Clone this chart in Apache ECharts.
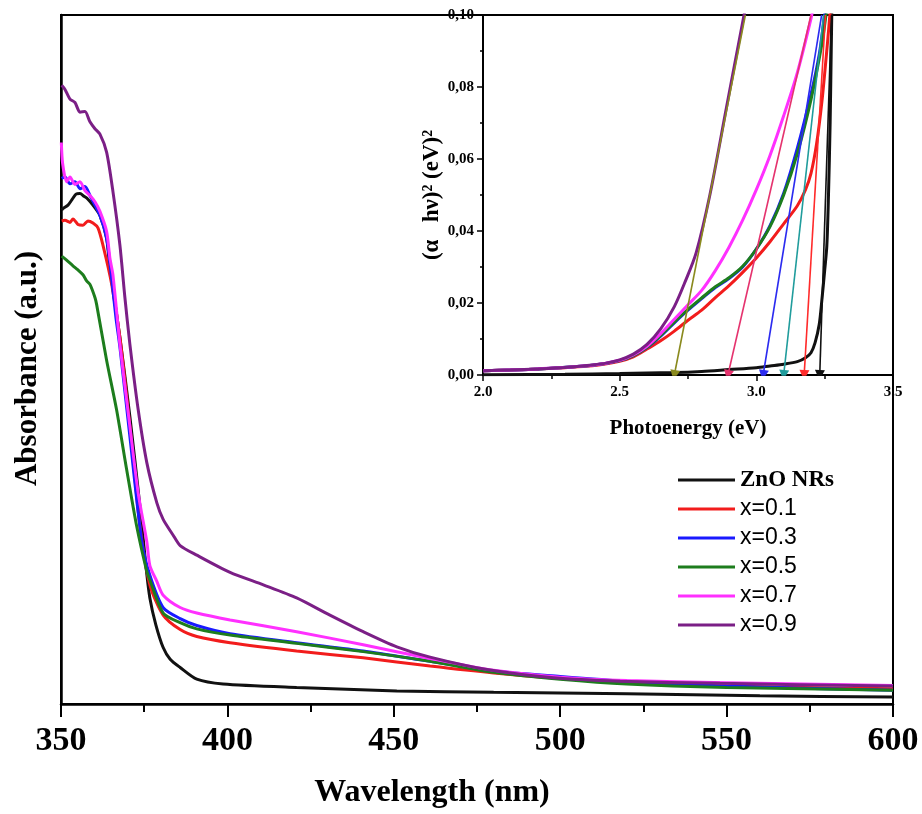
<!DOCTYPE html>
<html>
<head>
<meta charset="utf-8">
<script src="https://cdn.jsdelivr.net/npm/echarts@6/dist/echarts.min.js"></script>
<style>
  html, body { margin: 0; padding: 0; background: #fff; }
  #chart { width: 922px; height: 814px; }
</style>
</head>
<body>
<div id="chart"></div>
<script>
// Sample names and colours (shared by the absorbance spectra and the Tauc plots)
const sampleNames = ['ZnO NRs', 'x=0.1', 'x=0.3', 'x=0.5', 'x=0.7', 'x=0.9'];
const sampleColors = ['#111111', '#f21c1c', '#1a1aff', '#1d7d1d', '#ff30ff', '#7b1f86'];

// UV-vis absorbance spectra: [wavelength (nm), absorbance (a.u.)]
const absZnO = [[350.2,71.7],[350.6,71.9],[352.1,72.4],[353.3,73.2],[354.5,74.0],[355.7,74.1],[356.9,73.7],[357.8,73.4],[359.6,72.4],[361.7,70.9],[363.7,67.6],[364.7,63.3],[367.7,53.2],[370.7,41.7],[373.7,28.8],[375.5,20.1],[376.7,15.4],[378.5,11.5],[380.7,8.2],[382.8,6.5],[385.8,5.3],[390.8,3.6],[398.7,2.9],[420.8,2.4],[450.9,1.9],[480,1.7],[520,1.5],[560,1.2],[600,1.0]];
const absX01 = [[350.2,70.1],[351.2,70.2],[352.7,69.9],[353.6,70.4],[355.1,69.6],[356.6,69.5],[358.1,70.1],[359.6,69.8],[361.1,69.1],[362.6,66.6],[365.2,61.0],[367.7,53.2],[370.7,40.3],[373.7,25.9],[376.7,17.3],[380.7,12.9],[385.8,10.8],[390.8,9.8],[400.8,8.9],[420.8,7.7],[440.8,6.7],[460.9,5.5],[480,4.5],[500,3.7],[520,3.1],[550,2.6],[600,2.2]];
const absX03 = [[350.2,76.3],[351.2,76.5],[352.7,75.5],[354.2,75.8],[355.7,74.8],[357.2,75.1],[358.7,73.8],[361.7,70.9],[363.7,67.6],[364.7,64.0],[366.5,56.1],[367.7,51.8],[370.7,38.8],[374.3,23.5],[376.7,18.7],[380.7,14.0],[385.8,12.4],[390.8,11.4],[400.8,10.2],[420.8,8.9],[440.8,7.7],[460.9,6.2],[480,4.8],[500,4.0],[520,3.3],[550,2.6],[600,2.0]];
const absX05 = [[350.2,65.0],[351.5,64.5],[353.6,63.6],[355.1,63.0],[356.6,62.3],[357.7,61.4],[358.7,60.9],[360.2,59.0],[360.7,58.0],[363.7,49.9],[366.7,42.7],[369.7,34.1],[372.7,25.9],[375.8,19.2],[376.7,18.0],[380.7,13.2],[385.8,11.8],[390.8,10.9],[400.8,10.0],[420.8,8.8],[440.8,7.6],[460.9,6.2],[480,4.6],[500,3.6],[520,2.9],[550,2.4],[600,2.0]];
const absX07 = [[350.1,81.5],[350.5,78.4],[351.7,75.8],[352.7,76.5],[354.2,75.4],[355.7,75.8],[357.2,74.5],[358.7,73.8],[360.2,72.9],[361.7,71.5],[363.7,68.6],[364.7,64.7],[365.6,62.3],[367.7,52.2],[370.7,40.3],[373.2,30.6],[375.8,23.5],[376.7,20.1],[378.8,17.8],[380.7,15.8],[385.8,14.0],[390.8,13.2],[400.8,12.2],[420.8,10.5],[440.8,8.6],[460.9,6.6],[480,4.9],[500,3.9],[520,3.4],[550,3.1],[600,2.7]];
const absX09 = [[350.2,89.8],[351.2,89.2],[352.7,87.8],[354.2,87.3],[355.7,85.9],[357.2,86.0],[358.7,84.5],[360.2,83.5],[361.7,82.7],[363.7,80.1],[365.6,74.4],[367.7,66.6],[369.2,59.0],[370.7,52.2],[373.2,42.7],[375.8,35.0],[378.8,29.2],[380.7,26.8],[383.7,24.5],[385.8,23.0],[390.8,21.6],[400.8,19.1],[410.8,17.3],[420.8,15.4],[430.8,12.9],[440.8,10.5],[450.9,8.3],[460.9,6.8],[478,5.0],[498,3.8],[518,3.3],[548,3.0],[600,2.6]];
const absorbance = [absZnO, absX01, absX03, absX05, absX07, absX09];

// Tauc plots: [photon energy (eV), (alpha h nu)^2]
const taucZnO = [[2.0,0.0001],[2.3,0.0002],[2.5,0.0004],[2.7,0.0007],[2.8,0.0010],[2.9,0.0015],[3.0,0.0020],[3.05,0.0025],[3.1,0.0030],[3.15,0.0037],[3.18,0.0048],[3.2,0.0062],[3.215,0.0090],[3.23,0.0140],[3.24,0.0210],[3.25,0.0290],[3.258,0.0360],[3.264,0.0500],[3.27,0.0700],[3.274,0.0900],[3.277,0.1050]];
const taucX01 = [[2.0,0.0012],[2.2,0.0017],[2.4,0.0026],[2.5,0.0038],[2.55,0.0050],[2.6,0.0072],[2.65,0.0095],[2.7,0.0122],[2.75,0.0152],[2.8,0.0180],[2.85,0.0215],[2.9,0.0248],[2.95,0.0285],[3.0,0.0325],[3.05,0.0370],[3.1,0.0420],[3.15,0.0470],[3.18,0.0515],[3.2,0.0560],[3.22,0.0640],[3.24,0.0760],[3.26,0.0920],[3.27,0.1010]];
const taucX03 = [[2.0,0.0012],[2.2,0.0017],[2.4,0.0027],[2.5,0.0040],[2.55,0.0054],[2.6,0.0076],[2.65,0.0108],[2.7,0.0145],[2.75,0.0180],[2.8,0.0212],[2.85,0.0243],[2.9,0.0268],[2.95,0.0300],[3.0,0.0350],[3.05,0.0415],[3.1,0.0505],[3.15,0.0630],[3.2,0.0780],[3.23,0.0890],[3.25,0.1000],[3.26,0.1050]];
const taucX05 = [[2.0,0.0012],[2.2,0.0017],[2.4,0.0027],[2.5,0.0040],[2.55,0.0054],[2.6,0.0077],[2.65,0.0110],[2.7,0.0147],[2.75,0.0182],[2.8,0.0214],[2.85,0.0245],[2.9,0.0270],[2.95,0.0302],[3.0,0.0350],[3.05,0.0412],[3.1,0.0500],[3.15,0.0615],[3.2,0.0765],[3.24,0.0920],[3.255,0.1000],[3.265,0.1050]];
const taucX07 = [[2.0,0.0012],[2.2,0.0017],[2.4,0.0027],[2.5,0.0041],[2.55,0.0056],[2.6,0.0080],[2.65,0.0115],[2.7,0.0155],[2.75,0.0195],[2.8,0.0235],[2.85,0.0290],[2.9,0.0355],[2.95,0.0430],[3.0,0.0515],[3.05,0.0610],[3.1,0.0720],[3.15,0.0840],[3.2,0.0990],[3.21,0.1030]];
const taucX09 = [[2.0,0.0012],[2.1,0.0014],[2.2,0.0017],[2.3,0.0021],[2.4,0.0028],[2.45,0.0033],[2.5,0.0042],[2.55,0.0058],[2.6,0.0085],[2.65,0.0128],[2.7,0.0190],[2.74,0.0260],[2.78,0.0340],[2.83,0.0500],[2.89,0.0740],[2.95,0.0980],[2.97,0.1060]];
const tauc = [taucZnO, taucX01, taucX03, taucX05, taucX07, taucX09];

// Linear extrapolations of the absorption edges (band-gap estimates)
const fitIntercepts = [2.70, 2.896, 3.025, 3.10, 3.175, 3.232];
const fitTopEnergies = [2.96, 3.20, 3.239, 3.246, 3.253, 3.275];
const fitTopValue = 0.10;
const fitColors = ['#8a8a1e', '#e5336e', '#2b2bf0', '#1f9c9c', '#ff2b2b', '#111111'];

const serif = 'Liberation Serif, Times New Roman, serif';
const sans = 'Liberation Sans, Arial, sans-serif';

const chart = echarts.init(document.getElementById('chart'), null, { renderer: 'canvas' });

const mainSeries = sampleNames.map((name, i) => ({
  name: name,
  type: 'line',
  xAxisIndex: 0,
  yAxisIndex: 0,
  data: absorbance[i],
  showSymbol: false,
  smooth: 0.25,
  lineStyle: { width: 3, color: sampleColors[i] },
  itemStyle: { color: sampleColors[i] },
  z: 2 + i
}));

const insetSeries = sampleNames.map((name, i) => ({
  name: 'Tauc ' + name,
  type: 'line',
  xAxisIndex: 1,
  yAxisIndex: 1,
  data: tauc[i],
  showSymbol: false,
  smooth: 0.3,
  lineStyle: { width: 3, color: sampleColors[i] },
  itemStyle: { color: sampleColors[i] },
  z: 10 + i
}));

const fitSeries = {
  name: 'band-gap fits',
  type: 'lines',
  coordinateSystem: 'cartesian2d',
  xAxisIndex: 1,
  yAxisIndex: 1,
  polyline: false,
  silent: true,
  symbol: ['none', 'triangle'],
  symbolSize: 10,
  lineStyle: { width: 1.6, opacity: 1, curveness: 0 },
  data: fitIntercepts.map((e0, i) => ({
    coords: [[fitTopEnergies[i], fitTopValue], [e0, 0]],
    lineStyle: { color: fitColors[i] }
  })),
  z: 20
};

const option = {
  backgroundColor: '#ffffff',
  animation: false,
  color: sampleColors,
  grid: [
    { left: 61, right: 29, top: 15, bottom: 105, show: true, borderColor: '#000', borderWidth: 2, backgroundColor: 'transparent' },
    { left: 483, right: 29, top: 15, bottom: 439, show: true, borderColor: '#000', borderWidth: 2, backgroundColor: '#fff', z: 5 }
  ],
  legend: {
    orient: 'vertical',
    left: 673,
    top: 463,
    itemWidth: 57,
    itemHeight: 3,
    itemGap: 5,
    icon: 'rect',
    selectedMode: false,
    textStyle: { color: '#000', lineHeight: 24 },
    data: sampleNames.map((n, i) => ({
      name: n,
      textStyle: i === 0
        ? { fontFamily: serif, fontWeight: 'bold', fontSize: 23, color: '#000', lineHeight: 24 }
        : { fontFamily: sans, fontSize: 23, color: '#000', lineHeight: 24 }
    }))
  },
  xAxis: [
    {
      gridIndex: 0,
      type: 'value',
      min: 350,
      max: 600,
      interval: 50,
      name: 'Wavelength (nm)',
      nameLocation: 'middle',
      nameGap: 73,
      nameTextStyle: { fontFamily: serif, fontWeight: 'bold', fontSize: 32, color: '#000', padding: [0, 90, 0, 0] },
      axisLine: { lineStyle: { color: '#000', width: 2.5 } },
      axisTick: { inside: false, length: 13, lineStyle: { color: '#000', width: 2 } },
      minorTick: { show: true, splitNumber: 2, length: 8, lineStyle: { color: '#000', width: 2 } },
      axisLabel: { fontFamily: serif, fontWeight: 'bold', fontSize: 34, color: '#000', margin: 20 },
      splitLine: { show: false },
      minorSplitLine: { show: false }
    },
    {
      gridIndex: 1,
      type: 'value',
      min: 2.0,
      max: 3.5,
      interval: 0.5,
      name: 'Photoenergy (eV)',
      nameLocation: 'middle',
      nameGap: 43,
      nameTextStyle: { fontFamily: serif, fontWeight: 'bold', fontSize: 21, color: '#000' },
      axisLine: { lineStyle: { color: '#000', width: 2 } },
      axisTick: { inside: false, length: 6, lineStyle: { color: '#000', width: 1.5 } },
      minorTick: { show: true, splitNumber: 2, length: 4, lineStyle: { color: '#000', width: 1.5 } },
      axisLabel: { fontFamily: serif, fontWeight: 'bold', fontSize: 15, color: '#000', margin: 10, formatter: v => v.toFixed(1) },
      splitLine: { show: false }
    }
  ],
  yAxis: [
    {
      gridIndex: 0,
      type: 'value',
      min: 0,
      max: 100,
      name: 'Absorbance (a.u.)',
      nameLocation: 'middle',
      nameGap: 18,
      nameTextStyle: { fontFamily: serif, fontWeight: 'bold', fontSize: 31, color: '#000', padding: [0, 18, 0, 0] },
      axisLine: { show: true, lineStyle: { color: '#000', width: 2.5 } },
      axisTick: { show: false },
      axisLabel: { show: false },
      splitLine: { show: false }
    },
    {
      gridIndex: 1,
      type: 'value',
      min: 0,
      max: 0.1,
      interval: 0.02,
      name: '(α   hν)² (eV)²',
      nameLocation: 'middle',
      nameGap: 38,
      nameTextStyle: { fontFamily: serif, fontWeight: 'bold', fontSize: 23, color: '#000' },
      axisLine: { show: true, lineStyle: { color: '#000', width: 2 } },
      axisTick: { inside: false, length: 6, lineStyle: { color: '#000', width: 1.5 } },
      minorTick: { show: true, splitNumber: 2, length: 3, lineStyle: { color: '#000', width: 1.5 } },
      axisLabel: { fontFamily: serif, fontWeight: 'bold', fontSize: 15, color: '#000', margin: 9, formatter: v => v.toFixed(2).replace('.', ',') },
      splitLine: { show: false }
    }
  ],
  series: [...mainSeries, ...insetSeries, fitSeries]
};

chart.setOption(option);
</script>
</body>
</html>
